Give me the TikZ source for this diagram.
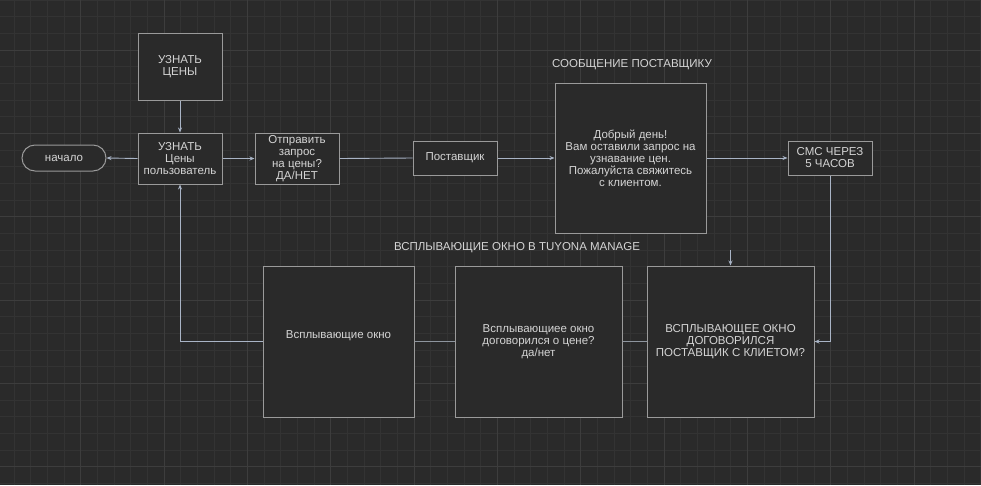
\documentclass[tikz,border=0pt]{standalone}
\usepackage{fontspec}
\setmainfont{Liberation Sans}
\usetikzlibrary{arrows.meta}
\definecolor{bg}{HTML}{2A2A2A}
\definecolor{gridminor}{HTML}{333333}
\definecolor{gridmajor}{HTML}{3D3D3D}
\definecolor{boxline}{HTML}{9A9A9A}
\definecolor{txt}{HTML}{D4D4D4}
\definecolor{conn}{HTML}{A9B4C6}
\definecolor{link}{HTML}{8E959E}
\tikzset{
  box/.style={draw=boxline, line width=1pt, fill=bg, text=txt, inner sep=0pt,
    align=center, font=\fontsize{11.5}{12}\selectfont},
  pill/.style={box, rounded corners=13pt},
  lbl/.style={text=txt, font=\fontsize{11.5}{12}\selectfont, inner sep=0pt},
  arr/.style={draw=conn, line width=0.9pt, -{Stealth[length=5pt,width=4pt]}},
  plain/.style={draw=conn, line width=0.9pt},
  joint/.style={draw=link, line width=1.4pt}
}
\begin{document}
\begin{tikzpicture}[x=1pt, y=-1pt]
\useasboundingbox (0,0) rectangle (981,485);
\fill[bg] (0,0) rectangle (981,485);
% grid
\foreach \i in {0,...,58} {
  \draw[gridminor, line width=0.8pt] ({14+16.6667*\i},0) -- ({14+16.6667*\i},485);
}
\foreach \j in {0,...,29} {
  \draw[gridminor, line width=0.8pt] (0,{16.6667*\j}) -- (981,{16.6667*\j});
}
\foreach \i in {-1,...,11} {
  \draw[gridmajor, line width=1pt] ({80.667+83.333*\i},0) -- ({80.667+83.333*\i},485);
}
\foreach \j in {0,...,5} {
  \draw[gridmajor, line width=1pt] (0,{50+83.333*\j}) -- (981,{50+83.333*\j});
}

% nodes
\node[box, minimum width=84pt, minimum height=67pt] (u1) at (180,66.5) {УЗНАТЬ\\ЦЕНЫ};
\node[box, minimum width=84pt, minimum height=51pt] (u2) at (180,158.5) {УЗНАТЬ\\Цены\\пользователь};
\node[pill, minimum width=84pt, minimum height=26pt] (start) at (64,158) {начало};
\node[box, minimum width=84pt, minimum height=51pt] (send) at (297,158.5) {Отправить\\запрос\\на цены?\\ДА/НЕТ};
\node[box, minimum width=84pt, minimum height=34pt] (supp) at (455,158) {Поставщик};
\node[box, minimum width=151pt, minimum height=150pt] (msg) at (630.5,158) {Добрый день!\\Вам оставили запрос на\\узнавание цен.\\Пожалуйста свяжитесь\\с клиентом.};
\node[box, minimum width=84pt, minimum height=34pt] (sms) at (830,158) {СМС ЧЕРЕЗ\\5 ЧАСОВ};
\node[box, minimum width=151pt, minimum height=151pt] (pop1) at (338.5,341.5) {\raisebox{6pt}[0.75em][0.2em]{Всплывающие окно}};
\node[box, minimum width=167pt, minimum height=151pt] (pop2) at (538.5,341.5) {Всплывающиее окно\\договорился о цене?\\да/нет};
\node[box, minimum width=167pt, minimum height=151pt] (pop3) at (730.5,341.5) {ВСПЛЫВАЮЩЕЕ ОКНО\\ДОГОВОРИЛСЯ\\ПОСТАВЩИК С КЛИЕТОМ?};
\node[lbl] (t1) at (632,65) {СООБЩЕНИЕ ПОСТАВЩИКУ};
\node[lbl] (t2) at (517,248) {ВСПЛЫВАЮЩИЕ ОКНО В TUYONA MANAGE};
\coordinate (dang) at (730.5,250);

% connectors
\draw[arr] (u1) -- (u2);
\draw[arr] (u2.west) -- (start.east);
\draw[arr] (u2.east) -- (send.west);
\draw[plain] (send.east) -- (supp.west);
\draw[arr] (supp.east) -- (msg.west);
\draw[arr] (msg.east) -- (sms.west);
\draw[arr] (sms.south) |- (pop3.east);
\draw[arr] (pop1.west) -| (u2.south);
\draw[joint] (pop1.east) -- (pop2.west);
\draw[joint] (pop2.east) -- (pop3.west);
\draw[arr] (dang) -- (pop3.north);
\end{tikzpicture}
\end{document}
